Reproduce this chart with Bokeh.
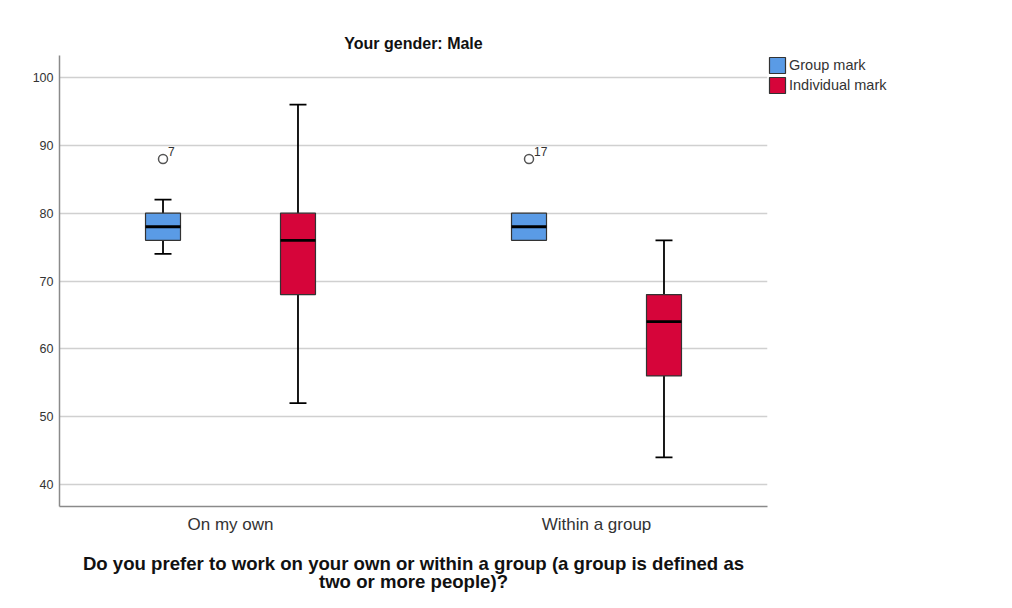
from bokeh.plotting import figure
from bokeh.models import (FactorRange, Range1d, FixedTicker, ColumnDataSource,
                          Legend, LegendItem)
from bokeh.transform import dodge
from bokeh.core.properties import value
from bokeh.embed import file_html
from bokeh.resources import INLINE

# ---- data ----
categories = ["On my own", "Within a group"]
series = ["Group mark", "Individual mark"]

group_low = [74, 76]
group_q1 = [76, 76]
group_median = [78, 78]
group_q3 = [80, 80]
group_high = [82, 80]

indiv_low = [52, 44]
indiv_q1 = [68, 56]
indiv_median = [76, 64]
indiv_q3 = [80, 68]
indiv_high = [96, 76]

outlier_cat = ["On my own", "Within a group"]
outlier_val = [88, 88]
outlier_lbl = ["7", "17"]

y_ticks = [40, 50, 60, 70, 80, 90, 100]

# ---- styling ----
FONT = "Liberation Sans"
BLUE = "#5A9BE6"
RED = "#D6053A"
OFF = 0.1844
BOXW = 0.0956
CAPW = 0.0464

p = figure(frame_width=708, frame_height=451, output_backend="svg", toolbar_location=None,
           x_range=FactorRange(*categories, range_padding=-0.0328,
                               range_padding_units="absolute"),
           y_range=Range1d(36.75, 103.25),
           title="Your gender: Male",
           min_border_left=59, min_border_right=237,
           min_border_top=55, min_border_bottom=94)

p.title.align = "center"
p.title.text_font = FONT
p.title.text_font_size = "16px"
p.title.text_font_style = "bold"
p.title.text_color = "#111111"
p.title.offset = 0
p.title.standoff = 8

p.outline_line_color = None
p.background_fill_color = "white"
p.border_fill_color = "white"

p.xgrid.grid_line_color = None
p.ygrid.grid_line_color = "#d0d0d0"
p.ygrid.grid_line_width = 1.5
p.yaxis.ticker = FixedTicker(ticks=y_ticks)

for ax in (p.xaxis, p.yaxis):
    ax.axis_line_color = "#8a8a8a"
    ax.axis_line_width = 1.5
    ax.major_tick_line_color = None
    ax.minor_tick_line_color = None
    ax.major_label_text_font = FONT

p.yaxis.major_tick_out = 0
p.yaxis.major_label_text_font_size = "12.5px"
p.yaxis.major_label_text_color = "#333333"
p.yaxis.major_label_standoff = 6

p.xaxis.major_label_text_font_size = "17px"
p.xaxis.major_label_text_color = "#333333"
p.xaxis.major_label_standoff = 2
p.xaxis.axis_label = ("Do you prefer to work on your own or within a group (a group is defined as\n"
                      "two or more people)?")
p.xaxis.axis_label_text_font = FONT
p.xaxis.axis_label_text_font_size = "18.6px"
p.xaxis.axis_label_text_font_style = "bold"
p.xaxis.axis_label_text_color = "#111111"
p.xaxis.axis_label_text_line_height = 0.9
p.xaxis.axis_label_standoff = 16
p.xaxis.axis_label_text_align = "center"


def draw_box(cats, low, q1, med, q3, high, offset, color):
    src = ColumnDataSource(dict(cat=cats, low=low, q1=q1, med=med, q3=q3, high=high))
    xc = dodge("cat", offset, range=p.x_range)
    # whiskers
    p.segment(x0=xc, y0="q3", x1=xc, y1="high", source=src,
              line_color="black", line_width=1.8)
    p.segment(x0=xc, y0="q1", x1=xc, y1="low", source=src,
              line_color="black", line_width=1.8)
    # caps only where a whisker exists
    cap_hi = ColumnDataSource(dict(cat=[c for c, h, t in zip(cats, high, q3) if h > t],
                                   y=[h for h, t in zip(high, q3) if h > t]))
    cap_lo = ColumnDataSource(dict(cat=[c for c, l, b in zip(cats, low, q1) if l < b],
                                   y=[l for l, b in zip(low, q1) if l < b]))
    for cs in (cap_hi, cap_lo):
        p.segment(x0=dodge("cat", offset - CAPW / 2, range=p.x_range), y0="y",
                  x1=dodge("cat", offset + CAPW / 2, range=p.x_range), y1="y",
                  source=cs, line_color="black", line_width=1.8)
    box = p.vbar(x=xc, width=BOXW, bottom="q1", top="q3", source=src,
                 fill_color=color, line_color="#333333", line_width=1.2)
    p.segment(x0=dodge("cat", offset - BOXW / 2, range=p.x_range), y0="med",
              x1=dodge("cat", offset + BOXW / 2, range=p.x_range), y1="med",
              source=src, line_color="black", line_width=2.8)
    return box


b1 = draw_box(categories, group_low, group_q1, group_median, group_q3, group_high, -OFF, BLUE)
b2 = draw_box(categories, indiv_low, indiv_q1, indiv_median, indiv_q3, indiv_high, OFF, RED)

osrc = ColumnDataSource(dict(cat=outlier_cat, y=outlier_val, lbl=outlier_lbl))
p.scatter(x=dodge("cat", -OFF, range=p.x_range), y="y", source=osrc, marker="circle",
          size=9, fill_color="white", line_color="#555555", line_width=1.5)
p.text(x=dodge("cat", -OFF, range=p.x_range), y="y", text="lbl", source=osrc,
       x_offset=5, y_offset=-3, text_font=value(FONT), text_font_size="12px",
       text_color="#333333", text_baseline="bottom", text_align="left")

legend = Legend(items=[LegendItem(label=series[0], renderers=[b1]),
                       LegendItem(label=series[1], renderers=[b2])],
                location="top_left", orientation="vertical")
legend.margin = 0
legend.padding = 0
legend.spacing = 0
legend.glyph_width = 20
legend.glyph_height = 20
legend.label_standoff = 2
legend.label_text_font = FONT
legend.label_text_font_size = "14.5px"
legend.label_text_color = "#333333"
legend.border_line_color = None
legend.background_fill_alpha = 0
p.add_layout(legend, "right")

open("out.html", "w").write(file_html(p, INLINE))
